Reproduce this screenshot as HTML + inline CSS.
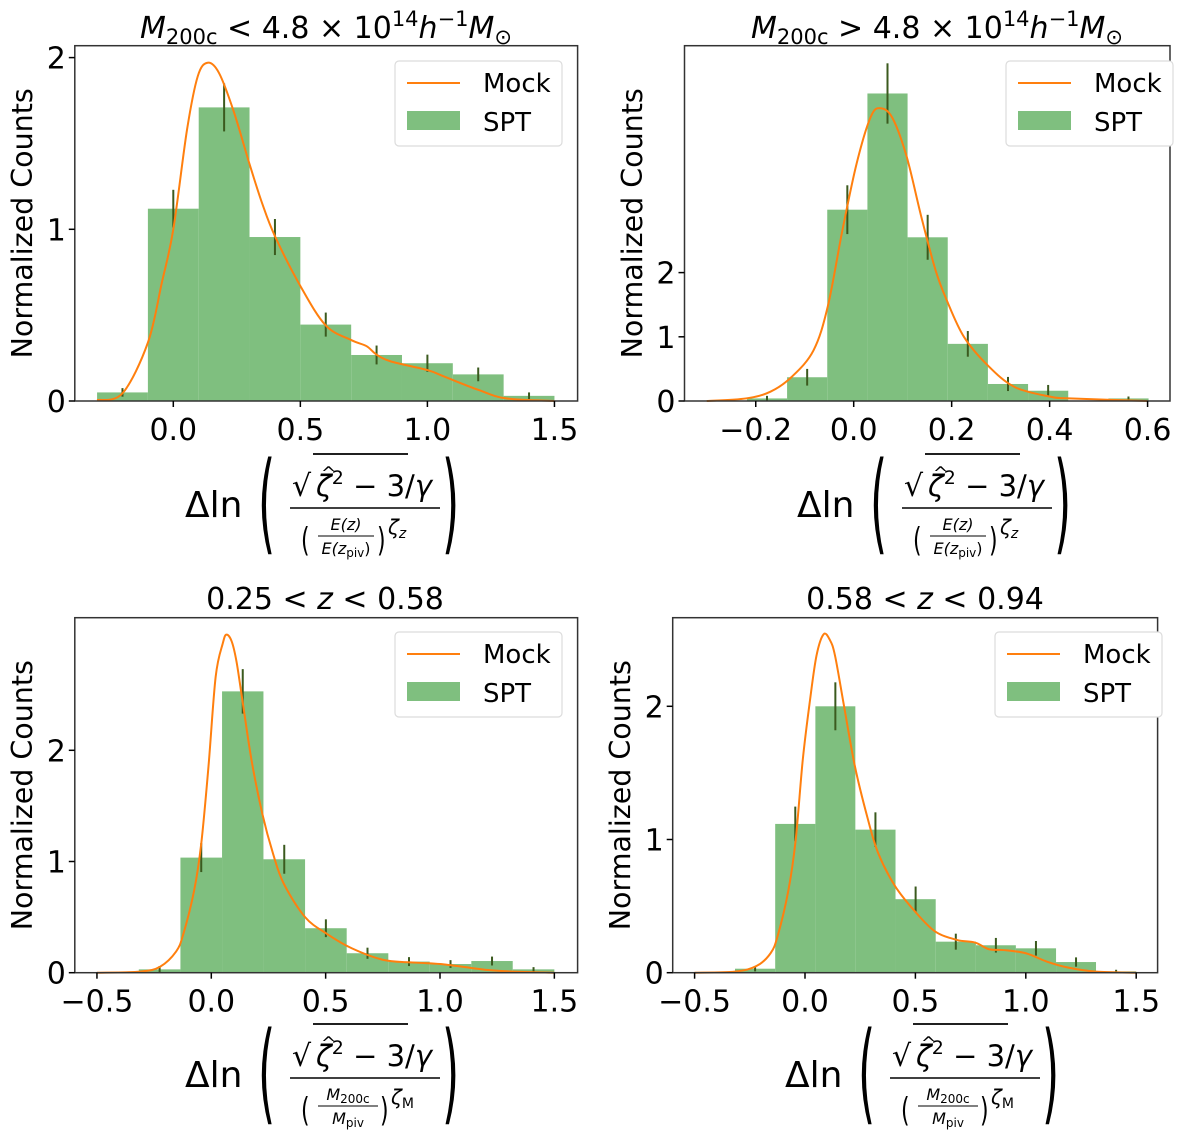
<!DOCTYPE html>
<html><head><meta charset="utf-8"><style>
html,body{margin:0;padding:0;background:#fff}
svg{display:block;font-family:"DejaVu Sans","Liberation Sans",sans-serif}
</style></head><body>
<svg id="fig" width="1200" height="1143" viewBox="0 0 1200 1143" xmlns="http://www.w3.org/2000/svg"></svg>
<script>
// ---- Panel 1 data ----
const p1Edges = [-0.3,-0.1,0.1,0.3,0.5,0.7,0.9,1.1,1.3,1.5];
const p1Heights = [0.05,1.12,1.71,0.955,0.445,0.268,0.22,0.155,0.03];
const p1Err = [0.025,0.11,0.14,0.105,0.07,0.055,0.05,0.04,0.02];
const p1MockX = [-0.3,-0.2,-0.1,-0.045,0,0.054,0.096,0.135,0.18,0.237,0.3,0.35,0.4,0.5,0.6,0.7,0.76,0.8,0.857,1.0,1.07,1.2,1.31,1.5];
const p1MockY = [0.005,0.045,0.34,0.69,1.0,1.58,1.89,1.97,1.91,1.69,1.38,1.15,0.96,0.67,0.44,0.355,0.32,0.27,0.23,0.18,0.14,0.065,0.015,0];
const p1XTicks = [0.0,0.5,1.0,1.5];
const p1XTickLabels = ["0.0","0.5","1.0","1.5"];
const p1YTicks = [0,1,2];
// ---- Panel 2 data ----
const p2Edges = [-0.218,-0.136,-0.054,0.028,0.11,0.192,0.274,0.356,0.438,0.52,0.602];
const p2Heights = [0.04,0.37,2.98,4.79,2.55,0.89,0.265,0.16,0,0.04];
const p2Err = [0.04,0.13,0.38,0.47,0.35,0.2,0.11,0.09,0,0.03];
const p2MockX = [-0.3,-0.22,-0.17,-0.126,-0.082,-0.053,-0.023,0.006,0.035,0.055,0.079,0.108,0.138,0.167,0.19,0.225,0.273,0.328,0.4,0.44,0.6];
const p2MockY = [0,0.04,0.145,0.38,0.79,1.47,2.66,3.7,4.43,4.56,4.41,3.81,2.87,2.04,1.57,1.0,0.56,0.22,0.07,0.04,0];
const p2XTicks = [-0.2,0.0,0.2,0.4,0.6];
const p2XTickLabels = ["\u22120.2","0.0","0.2","0.4","0.6"];
const p2YTicks = [0,1,2];
// ---- Panel 3 data ----
const p3Edges = [-0.317,-0.135,0.047,0.228,0.41,0.592,0.774,0.955,1.137,1.318,1.5];
const p3Heights = [0.03,1.035,2.53,1.02,0.40,0.175,0.1,0.078,0.105,0.03];
const p3Err = [0.03,0.13,0.2,0.13,0.08,0.05,0.04,0.035,0.04,0.02];
const p3MockX = [-0.5,-0.31,-0.224,-0.154,-0.122,-0.075,-0.044,-0.0125,0.019,0.05,0.066,0.089,0.11,0.136,0.176,0.223,0.27,0.317,0.41,0.505,0.614,0.755,0.897,1.0,1.13,1.21,1.32,1.5];
const p3MockY = [0,0.01,0.054,0.19,0.35,0.74,1.16,1.85,2.66,2.96,3.04,2.98,2.8,2.45,1.91,1.43,1.07,0.8,0.5,0.35,0.22,0.114,0.09,0.078,0.045,0.024,0.01,0];
const p3XTicks = [-0.5,0.0,0.5,1.0,1.5];
const p3XTickLabels = ["\u22120.5","0.0","0.5","1.0","1.5"];
const p3YTicks = [0,1,2];
// ---- Panel 4 data ----
const p4Edges = [-0.317,-0.135,0.047,0.228,0.41,0.592,0.774,0.955,1.137,1.318,1.5];
const p4Heights = [0.03,1.117,2.0,1.074,0.552,0.233,0.206,0.183,0.08,0.01];
const p4Err = [0.02,0.13,0.18,0.13,0.095,0.06,0.055,0.055,0.035,0.012];
const p4MockX = [-0.5,-0.318,-0.22,-0.156,-0.123,-0.075,-0.042,-0.01,0.023,0.052,0.084,0.112,0.136,0.177,0.226,0.282,0.331,0.408,0.498,0.589,0.688,0.77,0.834,0.899,1.0,1.096,1.193,1.317,1.5];
const p4MockY = [0,0.008,0.05,0.146,0.28,0.62,1.0,1.6,2.05,2.38,2.54,2.5,2.38,2.0,1.55,1.17,0.9,0.65,0.46,0.31,0.246,0.226,0.176,0.17,0.146,0.083,0.038,0.008,0];
const p4XTicks = [-0.5,0.0,0.5,1.0,1.5];
const p4XTickLabels = ["\u22120.5","0.0","0.5","1.0","1.5"];
const p4YTicks = [0,1,2];

const NS = "http://www.w3.org/2000/svg";
const svg = document.getElementById('fig');
function mk(tag, attrs, parent){
  const e = document.createElementNS(NS, tag);
  for (const k in attrs) e.setAttribute(k, attrs[k]);
  (parent||svg).appendChild(e);
  return e;
}
function smoothPath(pts){
  let d = "M"+pts[0][0]+","+pts[0][1];
  for (let i=0;i<pts.length-1;i++){
    const p0=pts[Math.max(0,i-1)], p1=pts[i], p2=pts[i+1], p3=pts[Math.min(pts.length-1,i+2)];
    const c1x=p1[0]+(p2[0]-p0[0])/6, c1y=p1[1]+(p2[1]-p0[1])/6;
    const c2x=p2[0]-(p3[0]-p1[0])/6, c2y=p2[1]-(p3[1]-p1[1])/6;
    d+=" C"+c1x.toFixed(2)+","+c1y.toFixed(2)+" "+c2x.toFixed(2)+","+c2y.toFixed(2)+" "+p2[0].toFixed(2)+","+p2[1].toFixed(2);
  }
  return d;
}

function drawPanel(id, cfg, edges, heights, errs, mx, my, xt, xtl, yt){
  const g = mk('g', {});
  
  
  const X = v => cfg.x0 + v*cfg.xu;
  const Y = v => cfg.y0 - v*cfg.yu;
  for (let i=0;i<heights.length;i++){
    if (heights[i] <= 0) continue;
    const r = mk('rect', {x:X(edges[i]), y:Y(heights[i]), width:X(edges[i+1])-X(edges[i]), height:Y(0)-Y(heights[i]), fill:'#7fbf7f'}, g);
    
    
  }
  for (let i=0;i<heights.length;i++){
    if (errs[i] <= 0) continue;
    const cx = X((edges[i]+edges[i+1])/2);
    const l = mk('line', {x1:cx, x2:cx, y1:Y(heights[i]-errs[i]), y2:Y(heights[i]+errs[i]), stroke:'#3b5a1e', 'stroke-width':2}, g);
    
    
  }
  const pts = mx.map((v,i)=>[X(v), Y(my[i])]);
  const c = mk('path', {d:smoothPath(pts), fill:'none', stroke:'#ff7f0e', 'stroke-width':2}, g);
  
  
  const f = mk('rect', {x:cfg.L, y:cfg.T, width:cfg.R-cfg.L, height:cfg.y0-cfg.T, fill:'none', stroke:'#333', 'stroke-width':1.5}, g);
  
  
  xt.forEach((v,i)=>{
    const x = X(v);
    mk('line', {x1:x, x2:x, y1:cfg.y0, y2:cfg.y0+6, stroke:'#000', 'stroke-width':1.5}, g);
    const t = mk('text', {x:x, y:cfg.y0+39, 'font-size':30, 'text-anchor':'middle'}, g);
    t.textContent = xtl[i];
    
    
  });
  yt.forEach(v=>{
    const y = Y(v);
    mk('line', {x1:cfg.L-6, x2:cfg.L, y1:y, y2:y, stroke:'#000', 'stroke-width':1.5}, g);
    const t = mk('text', {x:cfg.L-9, y:y+11, 'font-size':30, 'text-anchor':'end'}, g);
    t.textContent = String(v);
    
    
  });
  const yl = mk('text', {x:0, y:0, 'font-size':28.5, 'text-anchor':'middle', transform:'translate('+cfg.ylx+','+((cfg.T+cfg.y0)/2)+') rotate(-90)'}, g);
  yl.textContent = 'Normalized Counts';
  
  
  const lg = mk('g', {}, g);
  
  
  const lx = cfg.lgx, ly = cfg.lgy;
  mk('rect', {x:lx, y:ly, width:167, height:85, rx:4, fill:'#fff', stroke:'#dcdcdc', 'stroke-width':1.2}, lg);
  mk('line', {x1:lx+12, x2:lx+65, y1:ly+22, y2:ly+22, stroke:'#ff7f0e', 'stroke-width':2}, lg);
  const t1 = mk('text', {x:lx+88, y:ly+31, 'font-size':26}, lg); t1.textContent='Mock';
  
  
  mk('rect', {x:lx+12, y:ly+50, width:53, height:19, fill:'#7fbf7f'}, lg);
  const t2 = mk('text', {x:lx+88, y:ly+70, 'font-size':26}, lg); t2.textContent='SPT';
  
  
  return g;
}

drawPanel('panel-low-mass', {L:74.8,R:577.6,T:45.7,y0:401,x0:173.3,xu:254.1,yu:171.7,ylx:32,lgx:395,lgy:61},
  p1Edges,p1Heights,p1Err,p1MockX,p1MockY,p1XTicks,p1XTickLabels,p1YTicks);
drawPanel('panel-high-mass', {L:684.5,R:1170,T:45.7,y0:401,x0:853.7,xu:489.8,yu:64.2,ylx:642,lgx:1006,lgy:61},
  p2Edges,p2Heights,p2Err,p2MockX,p2MockY,p2XTicks,p2XTickLabels,p2YTicks);
drawPanel('panel-low-z', {L:74.8,R:577.6,T:617.7,y0:972.7,x0:211.3,xu:228.7,yu:111.2,ylx:32,lgx:395,lgy:632},
  p3Edges,p3Heights,p3Err,p3MockX,p3MockY,p3XTicks,p3XTickLabels,p3YTicks);
drawPanel('panel-high-z', {L:672.7,R:1157.6,T:617.7,y0:972.7,x0:805,xu:220.8,yu:133.2,ylx:630,lgx:995,lgy:632},
  p4Edges,p4Heights,p4Err,p4MockX,p4MockY,p4XTicks,p4XTickLabels,p4YTicks);
</script>
<svg style="position:absolute;left:0;top:0" width="1200" height="1143">
  <text x="326" y="38" font-size="30" text-anchor="middle" font-family="DejaVu Sans, sans-serif"><tspan font-style="italic">M</tspan><tspan font-size="21" dy="6">200c</tspan><tspan dy="-6"> &lt; 4.8 × 10</tspan><tspan font-size="21" dy="-12">14</tspan><tspan dy="12" font-style="italic">h</tspan><tspan font-size="21" dy="-12">−1</tspan><tspan dy="12" font-style="italic">M</tspan><tspan font-size="21" dy="6">⊙</tspan></text>
  <text x="937" y="38" font-size="30" text-anchor="middle" font-family="DejaVu Sans, sans-serif"><tspan font-style="italic">M</tspan><tspan font-size="21" dy="6">200c</tspan><tspan dy="-6"> &gt; 4.8 × 10</tspan><tspan font-size="21" dy="-12">14</tspan><tspan dy="12" font-style="italic">h</tspan><tspan font-size="21" dy="-12">−1</tspan><tspan dy="12" font-style="italic">M</tspan><tspan font-size="21" dy="6">⊙</tspan></text>
  <text x="325" y="609" font-size="30" text-anchor="middle" font-family="DejaVu Sans, sans-serif">0.25 &lt; <tspan font-style="italic">z</tspan> &lt; 0.58</text>
  <text x="925" y="609" font-size="30" text-anchor="middle" font-family="DejaVu Sans, sans-serif">0.58 &lt; <tspan font-style="italic">z</tspan> &lt; 0.94</text>

  <g font-family="DejaVu Sans, sans-serif">
    <text x="185" y="517" font-size="36">Δln</text>
    <text x="0" y="0" font-size="40" transform="translate(258,540) scale(1.1,2.75)">(</text>
    <text x="0" y="0" font-size="40" transform="translate(442,540) scale(1.1,2.75)">)</text>
    <text x="292" y="496" font-size="30">√</text>
    <line x1="313" y1="454" x2="408" y2="454" stroke="#000" stroke-width="1.8"/>
    <text x="316" y="496" font-size="29"><tspan font-style="italic">ζ</tspan><tspan font-size="19" dy="-12">2</tspan><tspan dy="12"> − 3/</tspan><tspan font-style="italic">γ</tspan></text>
    <text x="321" y="479" font-size="18">^</text>
    <line x1="290" y1="508" x2="440" y2="508" stroke="#000" stroke-width="1.6"/>
    <text x="0" y="0" font-size="22" transform="translate(301,551) scale(1,1.5)">(</text>
    <text x="346" y="530" font-size="16" text-anchor="middle" font-style="italic">E(z)</text>
    <line x1="318" y1="536" x2="374" y2="536" stroke="#000" stroke-width="1"/>
    <text x="346" y="554" font-size="16" text-anchor="middle"><tspan font-style="italic">E(z</tspan><tspan font-size="12" dy="3">piv</tspan><tspan dy="-3">)</tspan></text>
    <text x="0" y="0" font-size="22" transform="translate(377,551) scale(1,1.5)">)</text>
    <text x="388" y="534" font-size="20" font-style="italic">ζ<tspan font-size="14" dy="4">z</tspan></text>
  </g>
  <g font-family="DejaVu Sans, sans-serif" transform="translate(612,0)">
    <text x="185" y="517" font-size="36">Δln</text>
    <text x="0" y="0" font-size="40" transform="translate(258,540) scale(1.1,2.75)">(</text>
    <text x="0" y="0" font-size="40" transform="translate(442,540) scale(1.1,2.75)">)</text>
    <text x="292" y="496" font-size="30">√</text>
    <line x1="313" y1="454" x2="408" y2="454" stroke="#000" stroke-width="1.8"/>
    <text x="316" y="496" font-size="29"><tspan font-style="italic">ζ</tspan><tspan font-size="19" dy="-12">2</tspan><tspan dy="12"> − 3/</tspan><tspan font-style="italic">γ</tspan></text>
    <text x="321" y="479" font-size="18">^</text>
    <line x1="290" y1="508" x2="440" y2="508" stroke="#000" stroke-width="1.6"/>
    <text x="0" y="0" font-size="22" transform="translate(301,551) scale(1,1.5)">(</text>
    <text x="346" y="530" font-size="16" text-anchor="middle" font-style="italic">E(z)</text>
    <line x1="318" y1="536" x2="374" y2="536" stroke="#000" stroke-width="1"/>
    <text x="346" y="554" font-size="16" text-anchor="middle"><tspan font-style="italic">E(z</tspan><tspan font-size="12" dy="3">piv</tspan><tspan dy="-3">)</tspan></text>
    <text x="0" y="0" font-size="22" transform="translate(377,551) scale(1,1.5)">)</text>
    <text x="388" y="534" font-size="20" font-style="italic">ζ<tspan font-size="14" dy="4">z</tspan></text>
  </g>
  <g font-family="DejaVu Sans, sans-serif" transform="translate(0,570)">
    <text x="185" y="517" font-size="36">Δln</text>
    <text x="0" y="0" font-size="40" transform="translate(258,540) scale(1.1,2.75)">(</text>
    <text x="0" y="0" font-size="40" transform="translate(442,540) scale(1.1,2.75)">)</text>
    <text x="292" y="496" font-size="30">√</text>
    <line x1="313" y1="454" x2="408" y2="454" stroke="#000" stroke-width="1.8"/>
    <text x="316" y="496" font-size="29"><tspan font-style="italic">ζ</tspan><tspan font-size="19" dy="-12">2</tspan><tspan dy="12"> − 3/</tspan><tspan font-style="italic">γ</tspan></text>
    <text x="321" y="479" font-size="18">^</text>
    <line x1="290" y1="508" x2="440" y2="508" stroke="#000" stroke-width="1.6"/>
    <text x="0" y="0" font-size="22" transform="translate(301,551) scale(1,1.5)">(</text>
    <text x="348" y="530" font-size="16" text-anchor="middle"><tspan font-style="italic">M</tspan><tspan font-size="12" dy="3">200c</tspan></text>
    <line x1="318" y1="536" x2="378" y2="536" stroke="#000" stroke-width="1"/>
    <text x="348" y="554" font-size="16" text-anchor="middle"><tspan font-style="italic">M</tspan><tspan font-size="12" dy="3">piv</tspan></text>
    <text x="0" y="0" font-size="22" transform="translate(380,551) scale(1,1.5)">)</text>
    <text x="391" y="534" font-size="20" font-style="italic">ζ<tspan font-size="14" dy="4" font-style="normal">M</tspan></text>
  </g>
  <g font-family="DejaVu Sans, sans-serif" transform="translate(600,570)">
    <text x="185" y="517" font-size="36">Δln</text>
    <text x="0" y="0" font-size="40" transform="translate(258,540) scale(1.1,2.75)">(</text>
    <text x="0" y="0" font-size="40" transform="translate(442,540) scale(1.1,2.75)">)</text>
    <text x="292" y="496" font-size="30">√</text>
    <line x1="313" y1="454" x2="408" y2="454" stroke="#000" stroke-width="1.8"/>
    <text x="316" y="496" font-size="29"><tspan font-style="italic">ζ</tspan><tspan font-size="19" dy="-12">2</tspan><tspan dy="12"> − 3/</tspan><tspan font-style="italic">γ</tspan></text>
    <text x="321" y="479" font-size="18">^</text>
    <line x1="290" y1="508" x2="440" y2="508" stroke="#000" stroke-width="1.6"/>
    <text x="0" y="0" font-size="22" transform="translate(301,551) scale(1,1.5)">(</text>
    <text x="348" y="530" font-size="16" text-anchor="middle"><tspan font-style="italic">M</tspan><tspan font-size="12" dy="3">200c</tspan></text>
    <line x1="318" y1="536" x2="378" y2="536" stroke="#000" stroke-width="1"/>
    <text x="348" y="554" font-size="16" text-anchor="middle"><tspan font-style="italic">M</tspan><tspan font-size="12" dy="3">piv</tspan></text>
    <text x="0" y="0" font-size="22" transform="translate(380,551) scale(1,1.5)">)</text>
    <text x="391" y="534" font-size="20" font-style="italic">ζ<tspan font-size="14" dy="4" font-style="normal">M</tspan></text>
  </g>
</svg>
</body></html>
